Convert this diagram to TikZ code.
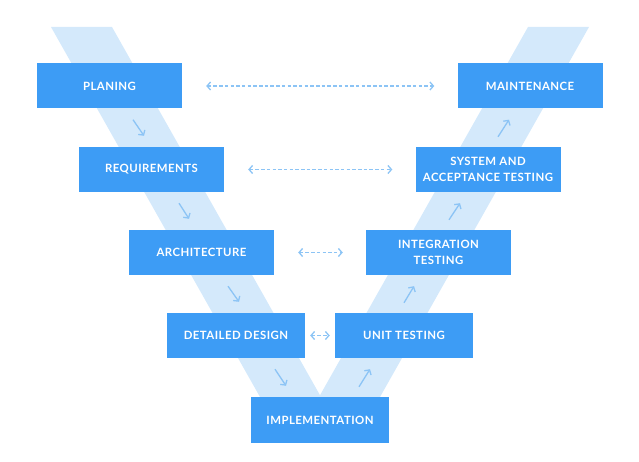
\documentclass[tikz,border=0pt]{standalone}
\usepackage{fontspec}
\usepackage{xcolor}
\usepackage{tikz}
\usetikzlibrary{arrows.meta, calc}
\setmainfont{Lato}
\newfontfamily\stagefont[LetterSpace=4]{Lato}
\definecolor{stageblue}{RGB}{61,156,245}
\definecolor{bandblue}{RGB}{212,233,251}
\definecolor{linkblue}{RGB}{140,196,245}

\begin{document}
\begin{tikzpicture}[x=1pt, y=-1pt,
  stage/.style={rectangle, fill=stageblue, text=white, minimum width=145, minimum height=45,
                align=center, font=\stagefont\fontsize{11.4}{16.5}\selectfont\bfseries},
  narrow/.style={stage, minimum width=138},
  flow/.style={-{Straight Barb[length=3.5pt, width=8pt]}, linkblue, line width=1.3pt},
  link/.style={{Straight Barb[length=3.5pt, width=8pt]}-{Straight Barb[length=3.5pt, width=8pt]},
               linkblue, line width=1.3pt, dash pattern=on 3.5pt off 2.2pt},
]
  \useasboundingbox (0,0) rectangle (639,462);

  % the V band behind the stages
  \fill[bandblue] (51,27) -- (112,27) -- (334,420) -- (273,420) -- cycle;
  \fill[bandblue] (589,27) -- (528,27) -- (306,420) -- (367,420) -- cycle;

  % left arm
  \node[stage] (plan) at (109.5,86) {PLANING};
  \node[stage] (req) at (151.5,169.5) {REQUIREMENTS};
  \node[stage] (arch) at (201.5,252.5) {ARCHITECTURE};
  \node[narrow] (dd) at (236,335.5) {DETAILED DESIGN};
  \node[narrow, minimum height=46] (impl) at (320,420) {IMPLEMENTATION};

  % right arm
  \node[narrow] (ut) at (404,335.5) {UNIT TESTING};
  \node[stage] (it) at (438.5,252.5) {INTEGRATION\\TESTING};
  \node[stage] (sys) at (488,169.5) {SYSTEM AND\\ACCEPTANCE TESTING};
  \node[stage] (maint) at (530,86) {MAINTENANCE};

  % steps down the left arm
  \foreach \from/\to/\s/\e in {plan/req/23.5/-7.5, req/arch/27.5/-12.5, arch/dd/26.5/3, dd/impl/39/-34}
    \draw[flow] ([xshift=\s, yshift=-11]\from.south) -- ([xshift=\e, yshift=11]\to.north);
  % steps up the right arm
  \foreach \from/\to/\s/\e in {impl/ut/39/-34, ut/it/0/-24.5, it/sys/10.5/-28, sys/maint/10/-21}
    \draw[flow] ([xshift=\s, yshift=10]\from.north) -- ([xshift=\e, yshift=-11]\to.south);

  % verification links
  \foreach \from/\to in {plan/maint, req/sys, arch/it}
    \draw[link, shorten <=24pt, shorten >=23pt] (\from.east) -- (\to.west);
  \draw[link, shorten <=5pt, shorten >=5pt] (dd.east) -- (ut.west);
\end{tikzpicture}
\end{document}
